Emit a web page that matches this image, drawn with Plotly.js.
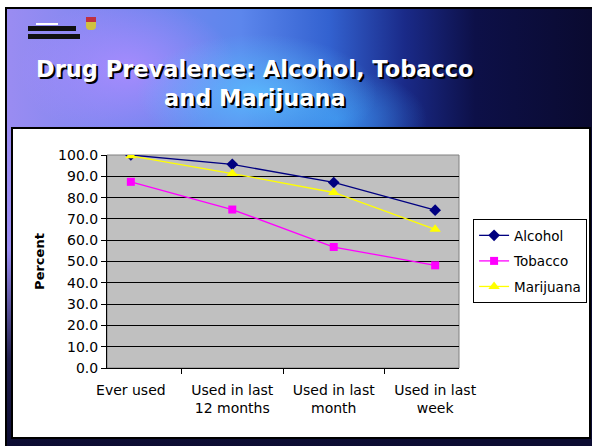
<!DOCTYPE html>
<html>
<head>
<meta charset="utf-8">
<script src="https://cdn.plot.ly/plotly-3.0.1.min.js"></script>
<style>
  html, body { margin: 0; padding: 0; background: #ffffff; width: 592px; height: 446px; overflow: hidden; }
  #slide {
    position: absolute; left: 5px; top: 7px; width: 587px; height: 439px;
    border-left: 2px solid #000; border-top: 2px solid #000; box-sizing: border-box;
    background:
      linear-gradient(to bottom, rgba(10,10,45,0) 0%, rgba(10,10,45,0) 55%, rgba(12,12,50,0.85) 80%, rgba(12,12,50,1) 100%),
      radial-gradient(ellipse 120px 60px at 250px 85px, rgba(90,190,255,0.85), rgba(90,190,255,0) 100%),
      radial-gradient(ellipse 110px 70px at 120px 60px, rgba(170,140,255,0.9), rgba(170,140,255,0) 100%),
      radial-gradient(ellipse 90px 50px at 330px 110px, rgba(60,150,240,0.8), rgba(60,150,240,0) 100%),
      linear-gradient(to right, #9a8cf2 0%, #7a86f0 20%, #5c86ec 40%, #3362d0 55%, #1a2a88 68%, #0d1048 80%, #0a0a30 100%);
  }
  #panel {
    position: absolute; left: 11px; top: 127px; width: 580px; height: 312px;
    background: #ffffff; border: 2px solid #000; box-sizing: border-box;
  }
  #logo1 { position: absolute; left: 28px; top: 26px; width: 48px; height: 5px; background: #111; }
  #logo2 { position: absolute; left: 28px; top: 34px; width: 52px; height: 5px; background: #111; }
  #logo3 { position: absolute; left: 36px; top: 17px; width: 22px; height: 6px; border-bottom: 2px solid #fff; }
  #crest { position: absolute; left: 86px; top: 17px; width: 10px; height: 13px; background: linear-gradient(#c03040 0 35%, #d0c040 35% 100%); border-radius: 0 0 4px 4px; }
  #chart { position: absolute; left: 0; top: 0; width: 592px; height: 446px; }
</style>
</head>
<body>
<div id="slide"></div>
<div id="panel"></div>
<div id="logo1"></div>
<div id="logo2"></div>
<div id="logo3"></div>
<div id="crest"></div>
<div id="chart"></div>
<script>
const categories = ["Ever used", "Used in last<br>12 months", "Used in last<br>month", "Used in last<br>week"];
const alcohol = [100.0, 95.6, 87.1, 74.1];
const tobacco = [87.4, 74.4, 56.8, 48.2];
const marijuana = [99.6, 91.3, 82.4, 65.1];
const yTicks = [0, 10, 20, 30, 40, 50, 60, 70, 80, 90, 100];

const FONT = "DejaVu Sans, Arial, sans-serif";

const traces = [
  { x: categories, y: alcohol, name: "Alcohol", type: "scatter", mode: "lines+markers", legendgroup: "a",
    line: { color: "#000080", width: 1.3 }, marker: { symbol: "diamond", size: 9, color: "#000080" } },
  { x: categories, y: tobacco, name: "Tobacco", type: "scatter", mode: "lines+markers", legendgroup: "b",
    line: { color: "#ff00ff", width: 1.3 }, marker: { symbol: "square", size: 8, color: "#ff00ff" } },
  { x: categories, y: marijuana, name: "Marijuana", type: "scatter", mode: "lines+markers", legendgroup: "c",
    line: { color: "#ffff00", width: 1.3 }, marker: { symbol: "triangle-up", size: 10, color: "#ffff00" } }
];

const layout = {
  width: 592, height: 446,
  paper_bgcolor: "rgba(0,0,0,0)",
  plot_bgcolor: "#c0c0c0",
  margin: { l: 107, r: 133, t: 155, b: 78, autoexpand: false },
  font: { family: FONT, color: "#000" },
  showlegend: true,
  legend: {
    x: 1.04, xanchor: "left", y: 0.502, yanchor: "middle",
    bgcolor: "#ffffff", bordercolor: "#000", borderwidth: 1,
    font: { size: 13.5, color: "#000", family: FONT },
    traceorder: "grouped", tracegroupgap: 5
  },
  xaxis: {
    type: "category", tickson: "boundaries", ticks: "outside", ticklen: 5, tickcolor: "#000",
    showline: true, linecolor: "#000", linewidth: 1, showgrid: false,
    ticklabelstandoff: 9,
    tickfont: { size: 14, color: "#000", family: FONT }
  },
  yaxis: {
    range: [0, 100], tickvals: yTicks, tickformat: ".1f", ticks: "outside", ticklen: 5, tickcolor: "#000",
    showline: true, linecolor: "#000", linewidth: 1,
    showgrid: true, gridcolor: "#000", gridwidth: 1, zeroline: false,
    tickfont: { size: 14, color: "#000", family: FONT },
    title: { text: "<b>Percent</b>", font: { size: 13, color: "#000", family: FONT }, standoff: 10 }
  },
  shapes: [
    { type: "rect", xref: "paper", yref: "paper", x0: 0, x1: 1, y0: 0, y1: 1,
      line: { color: "#808080", width: 1 }, fillcolor: "rgba(0,0,0,0)", layer: "below" }
  ],
  annotations: [
    { text: "<b>Drug Prevalence: Alcohol, Tobacco<br>and Marijuana</b>", xref: "paper", yref: "paper",
      x: (255 - 107) / 352, y: (368 - 83) / 213, xanchor: "center", yanchor: "middle", showarrow: false,
      font: { family: FONT, size: 22.5, color: "#ffffff", shadow: "2px 2px 0px #000" },
      align: "center" }
  ]
};

Plotly.newPlot("chart", traces, layout, { displayModeBar: false, staticPlot: true });
</script>
</body>
</html>
